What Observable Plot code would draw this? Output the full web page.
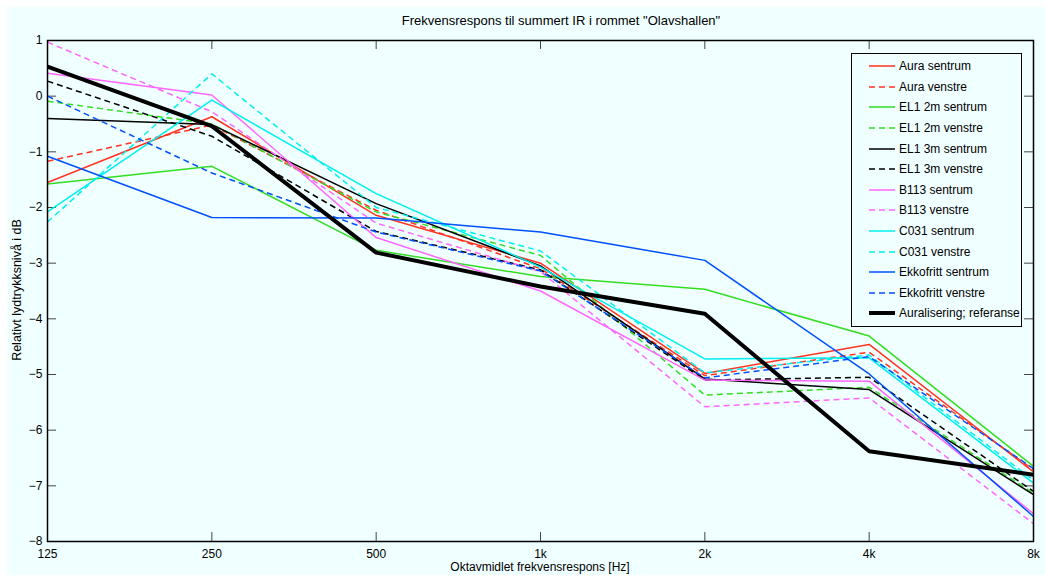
<!DOCTYPE html>
<html><head><meta charset="utf-8">
<script src="https://cdn.jsdelivr.net/npm/d3@7"></script>
<script src="https://cdn.jsdelivr.net/npm/@observablehq/plot@0.6"></script>
<style>
body{margin:0;background:#fff;font-family:"Liberation Sans",Arial,Helvetica,sans-serif;}
#fig{position:absolute;left:7px;top:7px;width:1038px;height:568px;background:#f0ffff;overflow:hidden;}
#chart{position:absolute;left:0;top:0;}
.title{position:absolute;top:6px;left:554px;transform:translateX(-50%);font-size:13px;white-space:nowrap;}
.xlabel{position:absolute;top:553px;left:533px;transform:translateX(-50%);font-size:12px;white-space:nowrap;}
.ylabel{position:absolute;left:10px;top:283px;transform:translate(-50%,-50%) rotate(-90deg);font-size:12.5px;white-space:nowrap;}
#legend{position:absolute;left:844px;top:46px;width:169px;height:270px;border:1px solid #000;background:#f0ffff;padding-top:2px;box-sizing:content-box;}
.row{height:20.6px;display:flex;align-items:center;font-size:12px;white-space:nowrap;}
.row svg{margin-left:17px;margin-right:4px;}
</style></head><body>
<div id="fig">
  <div id="chart"></div>
  <div class="title">Frekvensrespons til summert IR i rommet "Olavshallen"</div>
  <div class="xlabel">Oktavmidlet frekvensrespons [Hz]</div>
  <div class="ylabel">Relativt lydtrykksnivå i dB</div>
  <div id="legend"></div>
</div>
<script>
// ---- data ----
const freqs = [125, 250, 500, 1000, 2000, 4000, 8000];
const freqLabels = ["125", "250", "500", "1k", "2k", "4k", "8k"];
const yTicks = [-8, -7, -6, -5, -4, -3, -2, -1, 0, 1];

const seriesNames = ["Aura sentrum", "Aura venstre", "EL1 2m sentrum", "EL1 2m venstre",
  "EL1 3m sentrum", "EL1 3m venstre", "B113 sentrum", "B113 venstre",
  "C031 sentrum", "C031 venstre", "Ekkofritt sentrum", "Ekkofritt venstre",
  "Auralisering; referanse"];
const seriesColors = ["#ff3322", "#ff3322", "#33dd22", "#33dd22", "#000000", "#000000",
  "#ff66ff", "#ff66ff", "#00f0f0", "#00f0f0", "#0050ff", "#0050ff", "#000000"];
const seriesDashed = [false, true, false, true, false, true, false, true, false, true, false, true, false];
const seriesWidths = [1.5, 1.5, 1.5, 1.5, 1.5, 1.5, 1.5, 1.5, 1.5, 1.5, 1.5, 1.5, 4];

const auraSentrum      = [-1.55, -0.37, -2.14, -3.00, -4.98, -4.46, -6.75];
const auraVenstre      = [-1.17, -0.52, -2.05, -3.10, -5.02, -4.60, -6.71];
const el12mSentrum     = [-1.58, -1.26, -2.77, -3.24, -3.47, -4.31, -6.65];
const el12mVenstre     = [-0.09, -0.50, -2.08, -2.86, -5.37, -5.23, -7.13];
const el13mSentrum     = [-0.40, -0.51, -1.93, -3.05, -5.08, -5.27, -7.16];
const el13mVenstre     = [ 0.27, -0.72, -2.43, -3.12, -5.10, -5.05, -7.10];
const b113Sentrum      = [ 0.41,  0.02, -2.54, -3.50, -5.10, -5.12, -7.50];
const b113Venstre      = [ 0.97, -0.28, -2.28, -3.15, -5.58, -5.42, -7.68];
const c031Sentrum      = [-2.08, -0.07, -1.75, -3.07, -4.72, -4.70, -6.95];
const c031Venstre      = [-2.26,  0.40, -2.00, -2.78, -4.97, -4.65, -6.90];
const ekkoSentrum      = [-1.08, -2.18, -2.19, -2.44, -2.95, -4.99, -7.55];
const ekkoVenstre      = [ 0.00, -1.38, -2.44, -3.14, -5.06, -4.68, -6.69];
const auralisering     = [ 0.53, -0.54, -2.81, -3.42, -3.91, -6.38, -6.80];

const seriesValues = [auraSentrum, auraVenstre, el12mSentrum, el12mVenstre, el13mSentrum,
  el13mVenstre, b113Sentrum, b113Venstre, c031Sentrum, c031Venstre, ekkoSentrum, ekkoVenstre, auralisering];

// ---- plot ----
const W = 1038, H = 568;
const mL = 40, mR = 12, mT = 33, mB = 34;
const innerW = W - mL - mR, innerH = H - mT - mB;
const tickLen = 9;

const lineMarks = seriesValues.map((vals, s) =>
  Plot.line(freqs.map((f, i) => ({f, v: vals[i]})), {
    x: "f", y: "v",
    stroke: seriesColors[s],
    strokeWidth: seriesWidths[s],
    strokeDasharray: seriesDashed[s] ? "6,4" : null,
    strokeLinejoin: "miter",
    strokeLinecap: "butt"
  })
);

const chart = Plot.plot({
  width: W, height: H,
  marginLeft: mL, marginRight: mR, marginTop: mT, marginBottom: mB,
  style: {background: "transparent", fontFamily: '"Liberation Sans", Arial, sans-serif', fontSize: "12px", color: "#000"},
  x: {type: "log", base: 2, domain: [125, 8000]},
  y: {domain: [-8, 1]},
  marks: [
    // inward ticks on all four sides
    Plot.ruleX(freqs, {stroke: "#444", strokeWidth: 1, insetTop: innerH - tickLen}),
    Plot.ruleX(freqs, {stroke: "#444", strokeWidth: 1, insetBottom: innerH - tickLen}),
    Plot.ruleY(yTicks, {stroke: "#444", strokeWidth: 1, insetRight: innerW - tickLen}),
    Plot.ruleY(yTicks, {stroke: "#444", strokeWidth: 1, insetLeft: innerW - tickLen}),
    ...lineMarks,
    Plot.frame({stroke: "#000", strokeWidth: 1.5}),
    Plot.axisX({ticks: freqs, tickFormat: d => freqLabels[freqs.indexOf(d)], tickSize: 0, tickPadding: 8, label: null, fontSize: 12}),
    Plot.axisY({ticks: yTicks, tickSize: 0, tickPadding: 5, label: null, fontSize: 12})
  ]
});
document.getElementById("chart").appendChild(chart);

// ---- legend ----
const legend = document.getElementById("legend");
seriesNames.forEach((name, s) => {
  const row = document.createElement("div");
  row.className = "row";
  const ns = "http://www.w3.org/2000/svg";
  const svg = document.createElementNS(ns, "svg");
  svg.setAttribute("width", 26); svg.setAttribute("height", 8);
  const ln = document.createElementNS(ns, "line");
  ln.setAttribute("x1", 0); ln.setAttribute("x2", 26);
  ln.setAttribute("y1", 4); ln.setAttribute("y2", 4);
  ln.setAttribute("stroke", seriesColors[s]);
  ln.setAttribute("stroke-width", seriesWidths[s]);
  if (seriesDashed[s]) ln.setAttribute("stroke-dasharray", "6,4");
  svg.appendChild(ln);
  row.appendChild(svg);
  const t = document.createElement("span");
  t.textContent = name;
  row.appendChild(t);
  legend.appendChild(row);
});
</script>
</body></html>
